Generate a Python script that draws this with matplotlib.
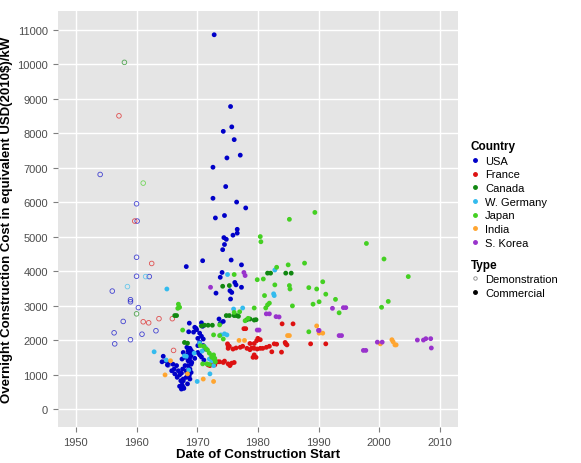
import numpy as np
import matplotlib
matplotlib.use('Agg')
import matplotlib.pyplot as plt
from matplotlib.lines import Line2D

plt.rcParams['font.family'] = ['Liberation Sans', 'DejaVu Sans']

# (year of construction start, overnight cost USD2010/kW)
usa_demo = [(1954.0, 6800), (1960.0, 5950), (1960.1, 5450), (1960.0, 4400), (1960.0, 3850),
            (1962.1, 3840), (1956.0, 3420), (1959.0, 3170), (1959.0, 3110), (1960.3, 2940),
            (1957.8, 2540), (1956.3, 2210), (1956.4, 1890), (1959.0, 2010), (1960.9, 2170),
            (1963.2, 2270), (1965.2, 1280)]
france_demo = [(1957.1, 8500), (1959.7, 5450), (1962.5, 4220), (1961.1, 2530), (1962.0, 2500),
               (1963.7, 2620), (1965.9, 2620), (1966.1, 1700)]
canada_demo = [(1958.0, 10050), (1960.0, 2760)]
germany_demo = [(1961.5, 3840), (1958.5, 3550)]
japan_demo = [(1961.1, 6550)]

usa_comm = [(1972.8, 10850), (1975.5, 8770), (1975.7, 8180), (1974.3, 8050), (1976.1, 7810),
            (1974.9, 7280), (1977.1, 7360), (1972.6, 7010), (1974.7, 6450), (1972.6, 6110),
            (1976.5, 6000), (1978.0, 5830), (1973.0, 5540), (1974.5, 5610), (1976.6, 5210),
            (1976.6, 5100), (1975.9, 5040), (1974.4, 4970), (1974.8, 4920), (1974.5, 4770),
            (1974.2, 4620), (1968.2, 4130), (1970.9, 4300), (1975.6, 4320), (1977.3, 4180),
            (1974.1, 3960), (1973.8, 3820), (1976.2, 3670), (1976.4, 3600), (1975.4, 3430),
            (1975.7, 3380), (1977.3, 3530), (1973.1, 3360), (1975.5, 3190),
            (1968.7, 2490), (1969.8, 2340), (1970.7, 2500), (1970.9, 2400), (1973.6, 2610),
            (1974.3, 2540), (1973.8, 2480), (1968.6, 2240), (1969.4, 2230), (1969.6, 2370),
            (1969.9, 2300), (1970.4, 2200), (1970.7, 2110), (1970.1, 2050), (1971.0, 2030),
            (1970.4, 1930), (1970.1, 1840), (1971.0, 1840), (1971.3, 1740), (1970.1, 1640),
            (1970.4, 1570), (1970.7, 1510), (1971.1, 1420),
            (1968.8, 1760), (1969.0, 1700), (1968.5, 1690), (1969.3, 1640), (1968.6, 1620),
            (1968.4, 1570), (1969.0, 1550), (1968.8, 1500), (1969.6, 1470), (1968.3, 1790),
            (1967.7, 1640), (1968.0, 1500), (1967.5, 1450), (1968.5, 1400), (1969.1, 1350),
            (1964.4, 1530), (1964.2, 1370), (1964.8, 1400), (1965.2, 1350), (1965.1, 1280),
            (1966.0, 1300), (1966.6, 1260), (1966.2, 1160), (1965.8, 1110), (1966.9, 1110),
            (1966.3, 1020), (1967.1, 990), (1967.4, 1040), (1966.7, 920), (1967.7, 870),
            (1967.3, 820), (1967.5, 700), (1967.1, 660), (1967.7, 630), (1967.4, 580),
            (1968.8, 1400), (1969.0, 1300), (1968.5, 1260), (1968.8, 1160), (1968.2, 1110),
            (1969.0, 1060), (1968.5, 990), (1968.8, 870), (1968.0, 1260), (1967.6, 1160),
            (1968.3, 1060), (1968.7, 970), (1968.2, 920), (1967.7, 820), (1968.4, 730),
            (1967.5, 680), (1967.8, 600)]
france_comm = [(1984.0, 2470), (1985.8, 2470), (1977.7, 2330), (1978.0, 2330), (1980.0, 2050),
               (1979.8, 1980), (1980.4, 2010), (1978.7, 1900), (1979.4, 1900), (1975.0, 1890),
               (1975.1, 1840), (1975.3, 1820), (1975.1, 1760), (1976.4, 1770), (1977.1, 1790),
               (1975.9, 1740), (1977.5, 1820), (1978.2, 1760), (1978.7, 1720), (1979.0, 1770),
               (1979.4, 1760), (1979.9, 1740), (1980.4, 1760), (1980.8, 1760), (1981.4, 1790),
               (1981.9, 1820), (1982.7, 1890), (1983.1, 1880), (1983.9, 1650), (1984.6, 1890),
               (1979.2, 1500), (1979.7, 1500), (1979.4, 1570), (1982.3, 1660),
               (1973.7, 1370), (1974.3, 1350), (1975.1, 1310), (1975.4, 1260), (1975.7, 1330),
               (1976.1, 1350), (1972.7, 1310), (1972.9, 1280), (1972.1, 1260), (1971.8, 1280),
               (1973.4, 1370), (1974.5, 1390), (1984.5, 1930), (1984.8, 1860),
               (1988.7, 1890), (1991.2, 1890)]
canada_comm = [(1966.3, 2710), (1966.6, 2710), (1967.9, 1930), (1968.4, 1910), (1970.7, 2410),
               (1971.2, 2430), (1971.8, 2430), (1972.5, 2430), (1974.2, 3560), (1975.3, 3580),
               (1974.8, 2710), (1975.3, 2710), (1976.1, 2710), (1976.5, 2710), (1976.8, 2690),
               (1978.2, 2590), (1978.7, 2610), (1979.4, 2580), (1979.7, 2590),
               (1981.6, 3940), (1982.1, 3940), (1984.6, 3940), (1985.5, 3940)]
germany_comm = [(1965.0, 3480), (1962.9, 1660), (1964.9, 1420), (1967.9, 1540), (1969.5, 1620),
                (1968.6, 1130), (1970.0, 800), (1972.1, 1020), (1968.2, 1530), (1970.4, 1910),
                (1971.3, 1790), (1970.8, 1680), (1975.0, 3900), (1982.8, 4030), (1982.6, 3340),
                (1982.7, 3290), (1976.0, 2900), (1977.5, 2930), (1973.9, 2150), (1974.9, 2150),
                (1974.5, 2180), (1972.0, 1450), (1972.4, 1400), (1972.7, 1260)]
japan_comm = [(1966.9, 3040), (1967.1, 2950), (1966.8, 2920), (1967.6, 2290), (1976.1, 3900),
              (1980.4, 5000), (1980.5, 4850), (1979.9, 3750), (1980.9, 3770), (1982.8, 3600),
              (1983.1, 4110), (1985.0, 4180), (1981.1, 3290), (1981.3, 2930), (1981.6, 3020),
              (1981.9, 3070), (1979.4, 2930), (1985.2, 3580), (1985.3, 3480), (1977.0, 2820),
              (1976.1, 2800), (1978.4, 2630), (1977.9, 2560), (1972.7, 2150), (1973.7, 2130),
              (1974.3, 2030), (1973.7, 2440), (1970.9, 1310), (1971.6, 1310), (1972.0, 1290),
              (1972.4, 1500), (1972.7, 1570), (1972.9, 1470), (1970.5, 1840), (1971.1, 1820),
              (1971.5, 1740), (1971.7, 1710), (1972.0, 1620), (1972.4, 1550), (1972.8, 1450),
              (1973.0, 1370), (1989.4, 5700), (1985.2, 5500), (1997.9, 4800), (1987.7, 4230),
              (1990.7, 3690), (1988.4, 3520), (1989.7, 3480), (1991.2, 3330), (1992.8, 3180),
              (1990.1, 3110), (1989.1, 3040), (1985.7, 2990), (1993.4, 2790), (1988.4, 2240),
              (2000.8, 4350), (2004.8, 3840), (2001.5, 3120), (2000.4, 2950)]
india_comm = [(1964.7, 990), (1965.6, 1400), (1968.4, 1020), (1971.0, 870), (1972.7, 800),
              (1976.9, 1990), (1977.8, 1990), (1989.7, 2410), (1990.7, 2200), (1990.1, 2200),
              (1984.9, 2130), (1985.2, 2130), (2000.2, 1890), (2002.1, 2010), (2002.3, 1950),
              (2002.8, 1860), (2002.6, 1860)]
korea_comm = [(1972.2, 3530), (1977.7, 3960), (1977.9, 3870), (1981.4, 2760), (1981.9, 2760),
              (1983.0, 2680), (1983.5, 2670), (1979.9, 2290), (1980.2, 2290), (1992.3, 2920),
              (1994.1, 2940), (1994.5, 2940), (1990.0, 2280), (1990.1, 2280), (1993.4, 2130),
              (1993.8, 2130), (1997.4, 1700), (1997.8, 1700), (1999.7, 1940), (2000.5, 1940),
              (2006.3, 2000), (2007.3, 2000), (2007.7, 2040), (2008.5, 2040), (2008.6, 1770)]

countries = ['USA', 'France', 'Canada', 'W. Germany', 'Japan', 'India', 'S. Korea']
colors = {'USA': '#0000C8', 'France': '#DD1111', 'Canada': '#118811', 'W. Germany': '#33BBEE',
          'Japan': '#44D022', 'India': '#FFA530', 'S. Korea': '#9933CC'}
demo = {'USA': usa_demo, 'France': france_demo, 'Canada': canada_demo,
        'W. Germany': germany_demo, 'Japan': japan_demo}
comm = {'USA': usa_comm, 'France': france_comm, 'Canada': canada_comm,
        'W. Germany': germany_comm, 'Japan': japan_comm, 'India': india_comm,
        'S. Korea': korea_comm}

fig = plt.figure(figsize=(5.81, 4.64), dpi=100)
ax = fig.add_axes([0.0993, 0.0776, 0.689, 0.897])
ax.set_facecolor('#E5E5E5')

for c in countries:
    if c in demo:
        x, y = zip(*demo[c])
        ax.scatter(x, y, s=11, facecolors='none', edgecolors=colors[c], linewidths=0.6,
                   alpha=0.7, zorder=3)
for c in countries:
    x, y = zip(*comm[c])
    ax.scatter(x, y, s=12, color=colors[c], edgecolors='none', zorder=3)

ax.set_xlim(1947, 2013)
ax.set_ylim(-520, 11545)
ax.set_xticks(np.arange(1950, 2011, 10))
ax.set_yticks(np.arange(0, 11001, 1000))
ax.grid(True, color='white', linewidth=1.0)
ax.set_axisbelow(True)
for s in ax.spines.values():
    s.set_visible(False)
ax.tick_params(colors='#7F7F7F', labelcolor='#4D4D4D', labelsize=8, length=3.5, width=0.8)

ax.set_xlabel('Date of Construction Start', fontsize=9.5, fontweight='bold', labelpad=1)
ax.set_ylabel('Overnight Construction Cost in equivalent USD(2010$)/kW', fontsize=9.5,
              fontweight='bold', labelpad=3)

h1 = [Line2D([], [], linestyle='none', marker='o', markersize=2.5, color=colors[c]) for c in countries]
leg1 = ax.legend(h1, countries, title='Country', loc='upper left', bbox_to_anchor=(1.02, 0.70),
                 frameon=False, fontsize=8, title_fontproperties={'weight': 'bold', 'size': 8.5},
                 handlelength=0.8, handletextpad=0.5, labelspacing=0.33, borderaxespad=0,
                 alignment='left')
ax.add_artist(leg1)
h2 = [Line2D([], [], linestyle='none', marker='o', markersize=2.5, markerfacecolor='none',
             markeredgecolor='#888888', markeredgewidth=0.6),
      Line2D([], [], linestyle='none', marker='o', markersize=2.5, color='black')]
ax.legend(h2, ['Demonstration', 'Commercial'], title='Type', loc='upper left',
          bbox_to_anchor=(1.02, 0.415), frameon=False, fontsize=8,
          title_fontproperties={'weight': 'bold', 'size': 8.5},
          handlelength=0.8, handletextpad=0.5, labelspacing=0.33, borderaxespad=0,
          alignment='left')

fig.savefig('out.png', dpi=100)
